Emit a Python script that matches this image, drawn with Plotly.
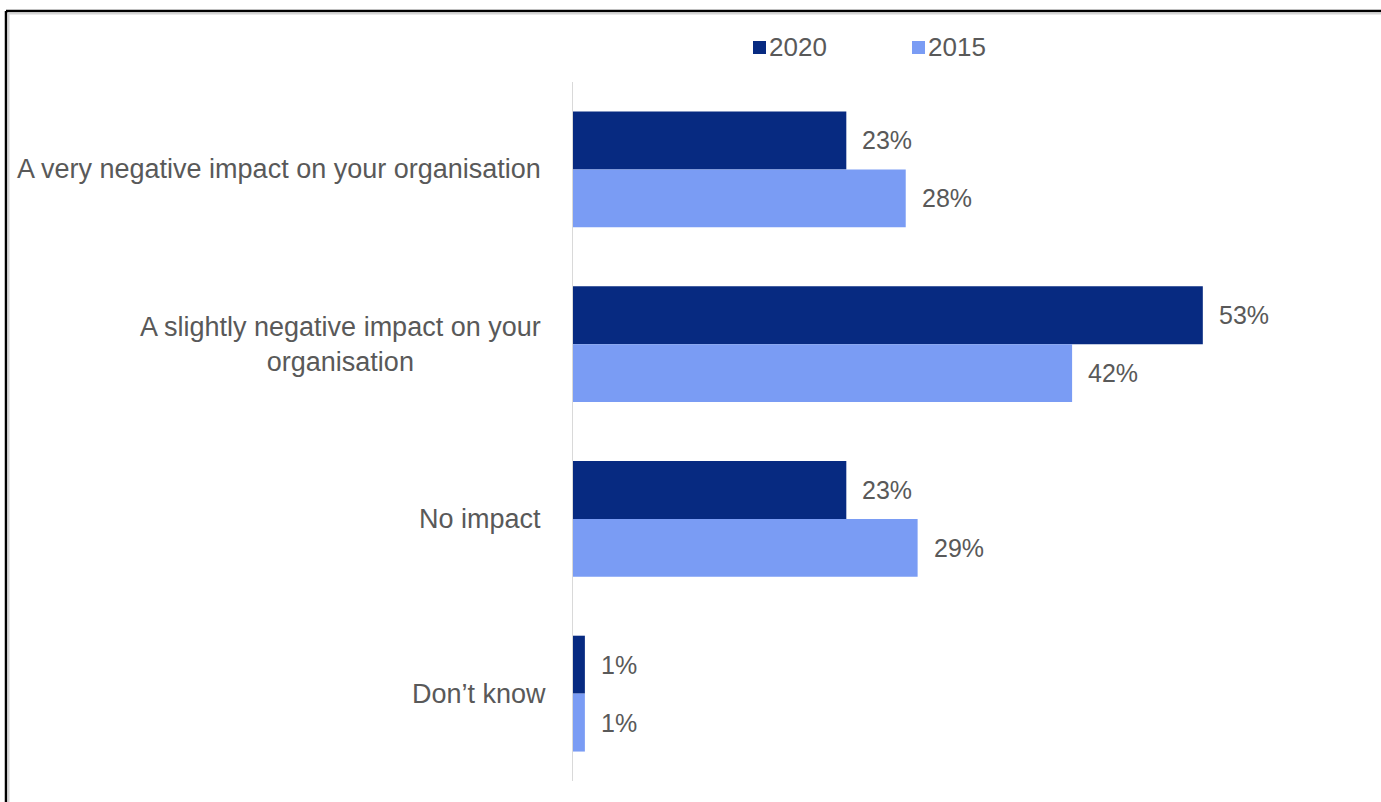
import plotly.graph_objects as go

# Survey categories (top to bottom) and share of respondents per year
categories = [
    "A very negative impact on your organisation",
    "A slightly negative impact on your<br>organisation",
    "No impact",
    "Don\u2019t know",
]
years = ["2020", "2015"]
values_2020 = [23, 53, 23, 1]
values_2015 = [28, 42, 29, 1]
colors = {"2020": "#072A81", "2015": "#7A9CF4"}

W, H = 1381, 802
ML, MR, MT, MB = 573, 95, 82, 21
PW, PH = W - ML - MR, H - MT - MB
BARGAP = 0.337
FONT = "Liberation Sans, Arial, sans-serif"
GREY = "#595959"


def px(x):
    return (x - ML) / PW


def py(y):
    return 1 - (y - MT) / PH


fig = go.Figure()
series = {"2020": values_2020, "2015": values_2015}
for yr in years:
    fig.add_trace(go.Bar(
        name=yr, y=categories, x=series[yr], orientation="h",
        marker=dict(color=colors[yr], line=dict(width=0)),
        showlegend=False, hoverinfo="skip",
    ))

# value labels beside each bar
band = PH / len(categories)
bar_px = band * (1 - BARGAP) / 2
annotations = []
for i, yr in enumerate(years):
    shift = bar_px / 2 if i == 0 else -bar_px / 2
    for cat, v in zip(categories, series[yr]):
        annotations.append(dict(
            x=v, y=cat, xref="x", yref="y", text=f"{v}%", showarrow=False,
            xanchor="left", yanchor="middle", xshift=14, yshift=shift,
            font=dict(family=FONT, size=25, color=GREY),
        ))

# category labels, right aligned against the axis
label_nudge = {categories[3]: 5}
for cat in categories:
    annotations.append(dict(
        x=px(543), y=cat, xref="paper", yref="y", text=cat, showarrow=False,
        xanchor="right", yanchor="middle", align="center",
        xshift=label_nudge.get(cat, 0),
        font=dict(family=FONT, size=27, color=GREY),
    ))

# legend drawn at the top
shapes = []
legend_pos = {"2020": 753, "2015": 912}
for yr in years:
    x0 = legend_pos[yr]
    shapes.append(dict(type="rect", xref="paper", yref="paper",
                       x0=px(x0), x1=px(x0 + 13), y0=py(54), y1=py(41),
                       fillcolor=colors[yr], line=dict(width=0)))
    annotations.append(dict(
        x=px(x0 + 14), y=py(47), xref="paper", yref="paper", text=yr,
        showarrow=False, xanchor="left", yanchor="middle",
        font=dict(family=FONT, size=26, color=GREY),
    ))

# outer frame with a soft inner shadow
shapes.append(dict(type="line", xref="paper", yref="paper",
                   x0=px(6), x1=px(W + 5), y0=py(11), y1=py(11),
                   line=dict(color="#000000", width=2.5)))
shapes.append(dict(type="line", xref="paper", yref="paper",
                   x0=px(6), x1=px(6), y0=py(11), y1=py(H + 5),
                   line=dict(color="#000000", width=2.5)))
shapes.append(dict(type="line", xref="paper", yref="paper",
                   x0=px(8), x1=px(W + 5), y0=py(13.5), y1=py(13.5),
                   line=dict(color="#d4d4d4", width=2)))
shapes.append(dict(type="line", xref="paper", yref="paper",
                   x0=px(8.5), x1=px(8.5), y0=py(13), y1=py(H + 5),
                   line=dict(color="#d4d4d4", width=2)))

fig.update_layout(
    width=W, height=H,
    margin=dict(l=ML, r=MR, t=MT, b=MB),
    paper_bgcolor="white", plot_bgcolor="white",
    barmode="group", bargap=BARGAP, bargroupgap=0,
    xaxis=dict(range=[0, 60], visible=False, fixedrange=True),
    yaxis=dict(autorange=False, range=[3.5, -0.5], showticklabels=False,
               showgrid=False, zeroline=False, ticks="",
               showline=True, linecolor="#d9d9d9", linewidth=1),
    annotations=annotations, shapes=shapes,
    showlegend=False,
)

fig.write_html("out.html", config={"displayModeBar": False})
